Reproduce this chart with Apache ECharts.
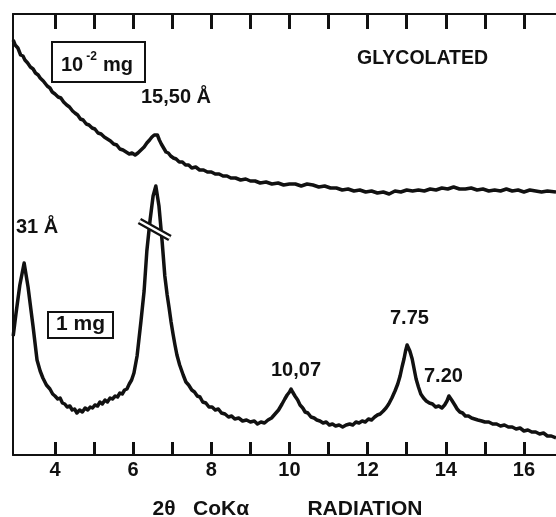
<!DOCTYPE html>
<html><head><meta charset="utf-8">
<script src="https://cdn.jsdelivr.net/npm/echarts@6/dist/echarts.min.js"></script>
<style>html,body{margin:0;padding:0;background:#fff}#c{width:556px;height:517px}</style>
</head><body><div id="c"></div>
<script>
// 2θ (CoKα) positions and relative intensities (arbitrary units)
const twoTheta1mg = [2.93,3.00,3.10,3.21,3.31,3.44,3.54,3.62,3.69,3.78,3.87,3.94,4.00,4.07,4.13,4.19,4.25,4.31,4.38,4.44,4.50,4.56,4.63,4.70,4.77,4.84,4.90,4.96,5.02,5.09,5.15,5.21,5.28,5.34,5.41,5.47,5.54,5.60,5.66,5.72,5.78,5.84,5.90,5.96,6.02,6.10,6.20,6.28,6.35,6.43,6.51,6.58,6.66,6.74,6.81,6.87,6.92,6.97,7.02,7.07,7.12,7.19,7.28,7.35,7.42,7.50,7.57,7.64,7.71,7.78,7.86,7.94,8.02,8.10,8.18,8.26,8.35,8.44,8.52,8.60,8.70,8.80,8.90,9.00,9.10,9.18,9.27,9.36,9.45,9.54,9.63,9.72,9.81,9.88,9.94,10.00,10.04,10.08,10.14,10.21,10.27,10.34,10.40,10.47,10.55,10.63,10.70,10.78,10.86,10.94,11.02,11.10,11.18,11.27,11.36,11.45,11.54,11.62,11.70,11.78,11.86,11.94,12.02,12.10,12.18,12.25,12.32,12.40,12.47,12.54,12.62,12.70,12.77,12.83,12.88,12.93,12.97,13.01,13.04,13.08,13.14,13.19,13.24,13.30,13.36,13.43,13.50,13.58,13.66,13.74,13.82,13.90,13.97,14.03,14.08,14.11,14.15,14.19,14.23,14.29,14.36,14.43,14.50,14.58,14.66,14.74,14.82,14.92,15.00,15.10,15.20,15.30,15.40,15.50,15.60,15.70,15.80,15.90,16.00,16.10,16.20,16.30,16.40,16.50,16.60,16.70,16.82];
const intensity1mg = [119,141,170,192,168,128,95,84,77,70,66,61,59,56,57,52,51,48,49,45,46,42,45,43,47,45,48,47,50,49,53,51,55,53,57,56,59,58,62,61,65,66,71,75,82,99,134,164,204,234,259,269,249,214,179,160,147,133,121,110,100,90,80,73,70,65,63,59,58,53,52,48,48,45,46,42,41,38,39,36,37,34,35,33,34,31,33,32,35,37,41,45,51,56,60,63,66,63,59,55,50,47,43,42,38,37,35,34,32,33,30,31,29,30,28,30,31,30,33,32,34,33,36,35,38,40,41,44,47,51,57,64,71,79,88,96,104,110,112,104,96,86,76,68,61,57,54,52,51,48,49,47,50,54,59,61,55,56,50,46,43,42,39,39,37,36,35,34,33,33,31,31,29,30,28,28,26,27,24,25,23,23,21,22,19,19,17];
const twoTheta10ug = [2.93,2.98,3.05,3.12,3.18,3.23,3.30,3.37,3.44,3.50,3.57,3.62,3.70,3.75,3.80,3.87,3.93,4.00,4.08,4.15,4.22,4.30,4.37,4.45,4.51,4.58,4.65,4.72,4.80,4.87,4.95,5.02,5.10,5.18,5.26,5.34,5.42,5.50,5.58,5.66,5.74,5.82,5.90,5.97,6.05,6.12,6.20,6.28,6.35,6.42,6.48,6.54,6.58,6.62,6.67,6.72,6.78,6.84,6.90,6.96,7.03,7.10,7.18,7.26,7.34,7.42,7.50,7.60,7.70,7.80,7.90,8.00,8.10,8.20,8.30,8.40,8.50,8.62,8.75,8.88,9.00,9.12,9.25,9.40,9.55,9.71,9.85,10.00,10.15,10.30,10.45,10.60,10.75,10.90,11.05,11.20,11.35,11.50,11.65,11.80,11.95,12.10,12.25,12.40,12.55,12.70,12.85,13.00,13.15,13.30,13.45,13.60,13.75,13.90,14.05,14.20,14.35,14.50,14.65,14.80,14.95,15.10,15.25,15.40,15.55,15.70,15.85,16.00,16.15,16.30,16.45,16.60,16.82];
const intensity10ug = [415,410,407,400,399,395,392,388,386,382,380,377,374,372,369,367,363,361,358,357,353,350,348,344,342,340,336,335,331,330,327,326,322,321,318,316,314,311,310,306,305,303,301,302,300,302,305,308,312,315,318,320,319,320,315,311,307,303,302,299,297,296,293,293,290,290,287,288,285,285,283,283,281,281,279,279,277,277,275,276,274,274,272,273,271,272,270,271,271,269,271,270,268,269,267,267,265,266,264,265,263,264,262,263,261,264,263,265,264,265,264,266,265,267,266,268,266,266,267,265,266,264,265,264,266,264,265,263,265,264,263,264,263];
const tickValues = [4,5,6,7,8,9,10,11,12,13,14,15,16];
const tickLabels = [4,6,8,10,12,14,16];
const breakMarkX = [6.16,6.94];
const breakMarkY = [234,217];

const FONT = "'Liberation Sans', Arial, Helvetica, sans-serif";
const zip = (xs, ys) => xs.map((x, i) => [x, ys[i]]);
const chart = echarts.init(document.getElementById('c'), null, {renderer: 'canvas'});
const brk = zip(breakMarkX, breakMarkY);
const txt = (text, left, top, size) => ({type: 'text', left, top, z: 100,
  style: {text, font: `bold ${size}px ${FONT}`, fill: '#111'}});

chart.setOption({
  animation: false,
  backgroundColor: '#fff',
  grid: {left: 13, right: 0, top: 14, bottom: 62, containLabel: false, outerBoundsMode: 'none'},
  xAxis: [{
    type: 'value', min: 2.925, max: 16.82, position: 'bottom',
    splitLine: {show: false},
    axisLine: {show: true, lineStyle: {color: '#111', width: 2}},
    axisTick: {show: true, inside: true, length: 13, customValues: tickValues, lineStyle: {color: '#111', width: 3}},
    axisLabel: {customValues: tickLabels, margin: 5, color: '#111', fontSize: 20, fontWeight: 'bold', fontFamily: FONT},
    name: '2θ   CoKα          RADIATION', nameLocation: 'middle', nameGap: 44,
    nameTextStyle: {color: '#111', fontSize: 21, fontWeight: 'bold', fontFamily: FONT, padding: [0, 0, 0, 6]}
  }, {
    type: 'value', min: 2.925, max: 16.82, position: 'top',
    splitLine: {show: false},
    axisLine: {show: true, lineStyle: {color: '#111', width: 2}},
    axisTick: {show: true, inside: true, length: 15, customValues: tickValues, lineStyle: {color: '#111', width: 3}},
    axisLabel: {show: false}
  }],
  yAxis: {
    type: 'value', min: 0, max: 441,
    splitLine: {show: false},
    axisLine: {show: true, lineStyle: {color: '#111', width: 2}},
    axisTick: {show: false}, axisLabel: {show: false}
  },
  series: [{
    name: '1 mg', type: 'line', data: zip(twoTheta1mg, intensity1mg),
    showSymbol: false, symbol: 'none', clip: false,
    lineStyle: {color: '#111', width: 3.5, join: 'round'},
    markLine: {
      silent: true, symbol: 'none', animation: false, label: {show: false},
      data: [
        [{coord: brk[0], lineStyle: {color: '#111', width: 7, type: 'solid'}}, {coord: brk[1]}],
        [{coord: brk[0], lineStyle: {color: '#fff', width: 2.5, type: 'solid'}}, {coord: brk[1]}]
      ]
    }
  }, {
    name: '10^-2 mg', type: 'line', data: zip(twoTheta10ug, intensity10ug),
    showSymbol: false, symbol: 'none', clip: false,
    lineStyle: {color: '#111', width: 3.5, join: 'round'}
  }],
  graphic: [
    {type: 'rect', shape: {x: 52, y: 42, width: 93, height: 40}, z: 99,
     style: {fill: '#fff', stroke: '#111', lineWidth: 2}},
    {type: 'text', left: 61, top: 51, z: 100,
     style: {text: '{a|10}{s|-2}{a|mg}', fill: '#111',
       rich: {a: {fontSize: 20, fontWeight: 'bold', fontFamily: FONT, fill: '#111', lineHeight: 24, verticalAlign: 'bottom'},
              s: {fontSize: 12, fontWeight: 'bold', fontFamily: FONT, fill: '#111', lineHeight: 24, verticalAlign: 'top', padding: [0, 6, 0, 3]}}}},
    {type: 'rect', shape: {x: 48, y: 312, width: 65, height: 26}, z: 99,
     style: {fill: '#fff', stroke: '#111', lineWidth: 2}},
    txt('1 mg', 56, 314, 21),
    txt('GLYCOLATED', 357, 49, 19.5),
    txt('15,50 Å', 141, 87, 20),
    txt('31 Å', 16, 217, 20),
    txt('10,07', 271, 360, 20),
    txt('7.75', 390, 308, 20),
    txt('7.20', 424, 366, 20)
  ]
});
</script>
</body></html>
